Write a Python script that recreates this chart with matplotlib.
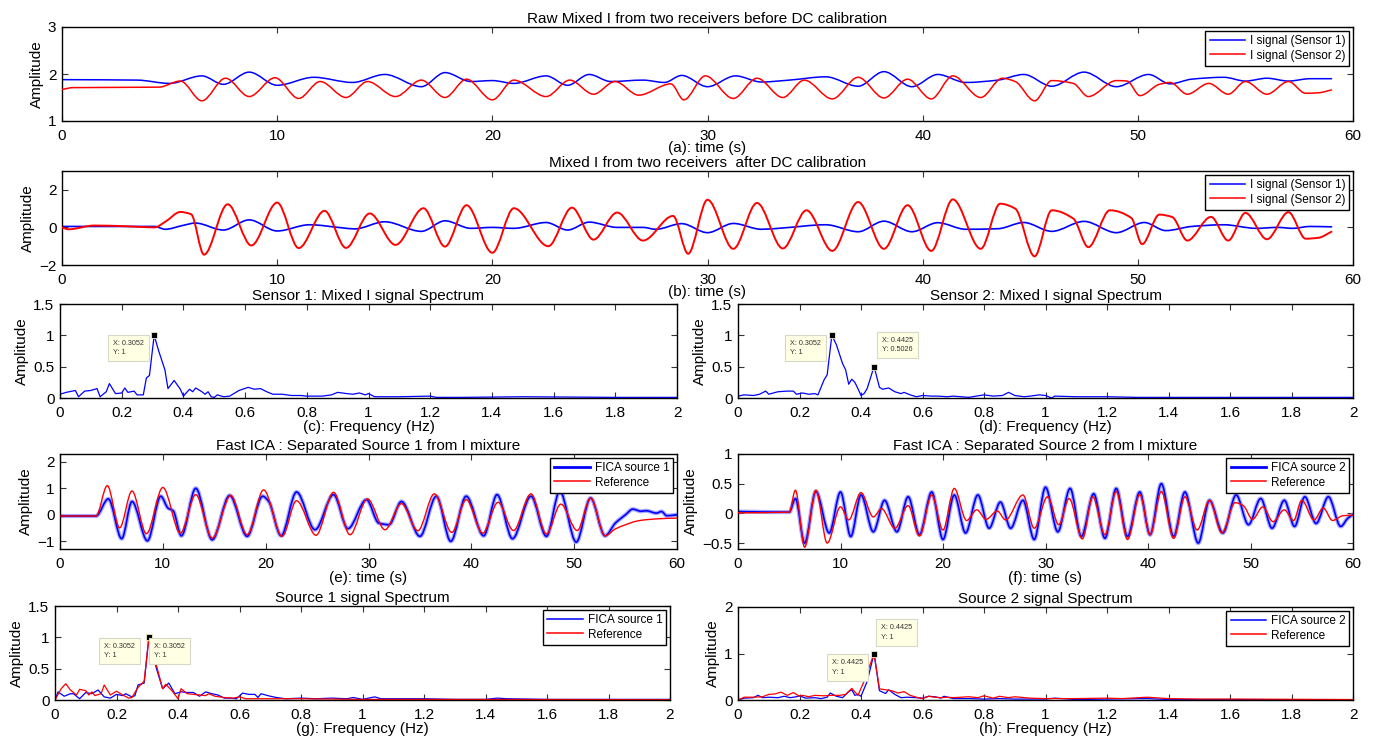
import numpy as np
import matplotlib
matplotlib.use("Agg")
import matplotlib.pyplot as plt
from matplotlib.path import Path
from matplotlib.patches import PathPatch
from matplotlib.lines import Line2D

plt.rcParams['font.family'] = ['Liberation Sans', 'DejaVu Sans']

# ---------------- data ----------------
# (a) raw mixed I
a_blue_t = [0, 3.5, 5.0, 6.5, 7.5, 8.7, 10.0, 11.7, 13.5, 15.0, 16.7, 17.8, 19.0, 20.0, 21.0, 22.5, 23.5, 24.5, 25.5, 27.0,
            28.0, 28.8, 30.0, 31.3, 32.5, 33.8, 35.5, 37.0, 38.2, 39.5, 40.7, 42.0, 43.5, 44.7, 46.0, 47.5, 49.0, 50.5,
            51.5, 52.5, 54.0, 55.0, 56.0, 57.0, 58.0, 59.0]
a_blue_v = [1.88, 1.87, 1.80, 1.96, 1.78, 2.04, 1.76, 1.93, 1.82, 1.99, 1.73, 2.03, 1.84, 1.86, 1.80, 1.96, 1.76, 1.99, 1.84,
            1.87, 1.82, 1.97, 1.73, 1.96, 1.83, 1.87, 1.94, 1.74, 2.05, 1.73, 1.99, 1.82, 1.87, 1.99, 1.74, 2.04, 1.73,
            1.99, 1.79, 1.89, 1.93, 1.85, 1.91, 1.85, 1.90, 1.90]
a_red_t = [0, 0.5, 4.5, 5.5, 6.5, 7.6, 8.7, 9.9, 11.0, 12.0, 13.2, 14.2, 15.5, 16.7, 17.8, 18.8, 20.0, 21.0, 22.5, 23.6,
           24.7, 25.7, 26.8, 28.3, 28.9, 29.9, 31.2, 32.3, 33.5, 34.5, 35.8, 37.0, 38.2, 39.3, 40.4, 41.4, 42.7, 43.7,
           44.3, 45.2, 46.0, 47.0, 47.7, 49.0, 49.5, 50.1, 51.0, 51.5, 52.3, 53.3, 54.2, 55.0, 56.0, 57.0, 57.8, 58.4, 59.0]
a_red_v = [1.67, 1.71, 1.72, 1.85, 1.43, 1.91, 1.52, 1.92, 1.48, 1.84, 1.50, 1.84, 1.52, 1.87, 1.50, 1.89, 1.45, 1.87,
           1.52, 1.87, 1.57, 1.84, 1.55, 1.79, 1.45, 1.96, 1.48, 1.91, 1.50, 1.87, 1.47, 1.93, 1.49, 1.89, 1.47, 1.96,
           1.50, 1.91, 1.84, 1.43, 1.86, 1.80, 1.52, 1.86, 1.85, 1.54, 1.78, 1.82, 1.57, 1.80, 1.57, 1.84, 1.57, 1.84,
           1.59, 1.60, 1.66]

# (b) after DC calibration
b_blue_t = [0, 4.3, 4.8, 5.6, 6.2, 7.5, 8.7, 10.0, 11.5, 13.0, 13.6, 15.0, 16.7, 17.8, 19.0, 20.0, 21.0, 22.5, 23.5, 24.5,
            25.8, 27.0, 27.6, 28.8, 30.0, 31.2, 32.5, 33.5, 35.5, 37.0, 38.2, 39.5, 40.7, 42.0, 43.5, 44.7, 46.0, 47.5,
            49.0, 50.3, 51.3, 52.5, 54.0, 55.5, 56.5, 57.2, 58.0, 59.0]
b_blue_v = [0.05, 0.05, -0.1, 0.1, 0.23, -0.14, 0.40, -0.19, 0.14, -0.02, -0.08, 0.30, -0.21, 0.35, -0.05, 0.0, -0.05,
            0.26, -0.14, 0.28, 0.0, 0.0, -0.1, 0.2, -0.28, 0.21, -0.1, -0.03, 0.14, -0.23, 0.33, -0.23, 0.25, -0.1,
            -0.07, 0.26, -0.21, 0.32, -0.28, 0.26, -0.17, 0.05, 0.14, -0.05, 0.0, -0.05, 0.05, 0.03]
b_red_t = [0, 0.3, 1.5, 3.0, 4.3, 4.8, 5.5, 6.0, 6.6, 7.7, 8.8, 10.0, 11.0, 12.2, 13.2, 14.3, 15.5, 16.8, 17.8, 18.8,
           20.0, 21.0, 22.6, 23.7, 24.7, 25.8, 27.0, 28.4, 29.1, 30.0, 31.2, 32.3, 33.5, 34.6, 35.8, 37.0, 38.2, 39.3,
           40.4, 41.4, 42.7, 43.6, 44.3, 45.2, 46.0, 47.0, 47.7, 48.7, 49.7, 50.2, 51.0, 51.6, 52.3, 53.4, 54.2, 55.0,
           56.0, 57.0, 57.8, 58.4, 59.0]
b_red_v = [0.0, -0.1, 0.1, 0.06, 0.0, 0.3, 0.82, 0.7, -1.45, 1.23, -0.96, 1.32, -1.1, 0.88, -1.09, 0.74, -0.93, 1.02,
           -1.02, 1.18, -1.35, 1.02, -1.0, 1.05, -0.65, 0.79, -0.70, 0.61, -1.4, 1.47, -1.14, 1.30, -1.12, 0.91, -1.25,
           1.35, -1.14, 1.18, -1.25, 1.49, -1.14, 1.26, 1.0, -1.54, 0.91, 0.47, -1.05, 0.91, 0.5, -0.89, 0.68, 0.55,
           -0.70, 0.56, -0.70, 0.77, -0.63, 0.81, -0.6, -0.55, -0.23]

# (c) sensor 1 spectrum
c_freq = [0.0, 0.02, 0.05, 0.06, 0.08, 0.10, 0.12, 0.13, 0.15, 0.16, 0.18, 0.20, 0.21, 0.22, 0.24, 0.25, 0.27, 0.28, 0.29,
          0.3052, 0.32, 0.34, 0.35, 0.37, 0.39, 0.40, 0.42, 0.43, 0.44, 0.46, 0.47, 0.48, 0.49, 0.50, 0.51, 0.53, 0.55,
          0.58, 0.61, 0.63, 0.65, 0.67, 0.69, 0.72, 0.75, 0.78, 0.80, 0.85, 0.88, 0.90, 0.93, 0.95, 0.97, 0.99, 1.00,
          1.02, 1.10, 1.20, 1.22, 1.30, 1.50, 1.80, 2.00]
c_amp = [0.06, 0.09, 0.12, 0.02, 0.11, 0.12, 0.15, 0.02, 0.10, 0.23, 0.07, 0.08, 0.16, 0.09, 0.11, 0.05, 0.05, 0.32, 0.36,
         1.00, 0.75, 0.45, 0.15, 0.28, 0.14, 0.03, 0.14, 0.10, 0.16, 0.10, 0.06, 0.10, 0.02, 0.01, 0.05, 0.02, 0.03,
         0.12, 0.17, 0.14, 0.15, 0.10, 0.06, 0.06, 0.04, 0.04, 0.03, 0.03, 0.05, 0.09, 0.07, 0.06, 0.08, 0.05, 0.07,
         0.02, 0.02, 0.03, 0.01, 0.01, 0.02, 0.01, 0.01]

# (d) sensor 2 spectrum
d_freq = [0.0, 0.02, 0.05, 0.07, 0.09, 0.10, 0.13, 0.16, 0.18, 0.19, 0.21, 0.23, 0.25, 0.26, 0.28, 0.29, 0.3052, 0.32,
          0.34, 0.35, 0.36, 0.37, 0.38, 0.39, 0.40, 0.41, 0.42, 0.4425, 0.46, 0.47, 0.49, 0.51, 0.53, 0.54, 0.56, 0.58,
          0.60, 0.63, 0.65, 0.68, 0.70, 0.75, 0.80, 0.83, 0.86, 0.88, 0.90, 0.93, 0.95, 0.98, 1.00, 1.02, 1.03, 1.10,
          1.20, 1.30, 1.50, 1.80, 2.00]
d_amp = [0.03, 0.05, 0.04, 0.06, 0.11, 0.06, 0.10, 0.11, 0.11, 0.06, 0.08, 0.06, 0.07, 0.05, 0.29, 0.37, 1.00, 0.85,
         0.55, 0.45, 0.22, 0.30, 0.25, 0.15, 0.04, 0.07, 0.15, 0.5026, 0.17, 0.14, 0.16, 0.10, 0.07, 0.09, 0.05, 0.02,
         0.04, 0.03, 0.03, 0.02, 0.03, 0.01, 0.05, 0.03, 0.04, 0.09, 0.04, 0.02, 0.03, 0.05, 0.04, 0.00, 0.03, 0.02,
         0.02, 0.01, 0.01, 0.01, 0.01]

# (e) separated source 1
e_fica_t = [0, 3.5, 4.7, 6.0, 7.0, 8.5, 9.8, 10.5, 11.0, 11.8, 13.2, 14.8, 16.5, 18.2, 19.7, 20.3, 21.5, 23.0, 24.8,
            26.6, 28.0, 29.8, 31.0, 32.0, 33.2, 35.0, 36.6, 38.0, 39.5, 41.2, 42.5, 44.0, 45.8, 47.3, 48.6, 50.2, 51.6,
            53.0, 54.0, 55.0, 55.7, 56.5, 57.0, 58.0, 58.5, 59.0, 60.0]
e_fica_v = [-0.05, -0.05, 0.6, -0.91, 0.5, -0.99, 0.7, 0.25, 0.15, -0.8, 1.0, -0.95, 0.73, -0.82, 0.7, 0.5, -0.8, 0.86,
            -0.57, 0.76, -0.53, 0.57, -0.32, -0.38, 0.5, -0.82, 0.7, -1.01, 0.7, -0.8, 0.76, -0.91, 0.7, -0.82, 0.89,
            -1.04, 0.63, -0.8, -0.32, 0.0, 0.21, 0.13, 0.15, 0.06, 0.12, -0.04, 0.0]
e_ref_t = [0, 3.5, 4.6, 5.8, 7.0, 8.4, 10.0, 11.7, 13.2, 14.8, 16.6, 18.2, 19.8, 21.6, 23.0, 24.9, 26.6, 28.2, 29.9, 31.6,
           33.2, 34.8, 36.4, 38.1, 39.5, 41.1, 42.6, 44.1, 45.8, 47.3, 48.7, 50.3, 51.6, 53.0, 54.0, 55.0, 56.0, 57.0,
           58.0, 59.0, 60.0]
e_ref_v = [-0.05, -0.05, 1.1, -0.5, 0.9, -0.72, 1.03, -0.7, 0.76, -0.89, 0.73, -0.76, 0.94, -0.82, 0.53, -0.78, 0.85,
           -0.76, 0.6, -0.57, 0.42, -0.61, 0.79, -0.67, 0.57, -0.7, 0.47, -0.6, 0.79, -0.73, 0.4, -0.6, 0.63, -0.8,
           -0.54, -0.38, -0.25, -0.19, -0.16, -0.14, -0.13]

# (f) separated source 2
f_fica_t = [0, 5.0, 5.6, 6.5, 7.6, 8.9, 10.0, 11.0, 12.0, 13.2, 14.3, 15.5, 16.6, 17.7, 18.9, 20.0, 21.1, 22.2, 23.4,
            24.5, 25.6, 26.6, 27.8, 28.9, 30.0, 31.2, 32.4, 33.5, 34.7, 35.8, 36.9, 38.0, 39.2, 40.2, 41.3, 42.5, 43.6,
            44.9, 46.0, 47.3, 48.6, 49.8, 51.0, 52.1, 53.3, 54.3, 55.3, 56.4, 57.6, 58.8, 59.5, 60.0]
f_fica_v = [0.03, 0.02, 0.25, -0.5, 0.37, -0.33, 0.36, -0.39, 0.31, -0.31, 0.22, -0.31, 0.28, -0.36, 0.36, -0.44, 0.31,
            -0.33, 0.31, -0.25, 0.19, -0.25, 0.22, -0.44, 0.44, -0.31, 0.42, -0.39, 0.33, -0.42, 0.42, -0.39, 0.36,
            -0.36, 0.5, -0.39, 0.36, -0.5, 0.22, -0.33, 0.31, -0.19, 0.25, -0.25, 0.22, -0.22, 0.28, -0.17, 0.28,
            -0.22, -0.08, -0.02]
f_ref_t = [0, 5.0, 5.6, 6.5, 7.6, 8.7, 10.0, 10.8, 12.0, 13.2, 14.0, 15.3, 16.6, 17.7, 18.9, 20.0, 21.1, 22.3, 23.3, 24.2,
           25.3, 26.1, 27.8, 28.9, 30.2, 31.3, 32.3, 33.6, 34.6, 35.8, 36.9, 38.0, 39.2, 40.2, 41.3, 42.5, 43.6, 44.8,
           46.0, 47.2, 48.5, 49.3, 50.2, 51.2, 52.2, 53.3, 54.2, 55.0, 56.2, 57.1, 58.0, 59.0, 60.0]
f_ref_v = [0.01, 0.02, 0.39, -0.57, 0.39, -0.5, 0.11, -0.11, 0.35, -0.06, 0.08, -0.25, 0.13, -0.38, 0.31, -0.28, 0.42,
           -0.12, 0.06, -0.1, 0.04, -0.11, 0.31, -0.25, 0.28, -0.19, 0.25, -0.43, 0.28, -0.36, 0.37, -0.44, 0.32,
           -0.36, 0.37, -0.42, 0.28, -0.28, 0.22, -0.33, 0.18, 0.13, -0.1, 0.11, -0.14, 0.06, -0.12, 0.22, -0.11,
           0.09, -0.12, -0.04, -0.03]

# (g) source 1 spectrum
g_fica_f = [0.0, 0.01, 0.03, 0.05, 0.06, 0.08, 0.10, 0.12, 0.14, 0.16, 0.18, 0.20, 0.22, 0.23, 0.25, 0.26, 0.27, 0.29,
            0.3052, 0.32, 0.33, 0.35, 0.37, 0.39, 0.41, 0.43, 0.45, 0.47, 0.49, 0.51, 0.53, 0.55, 0.57, 0.59, 0.61, 0.63,
            0.65, 0.66, 0.67, 0.70, 0.72, 0.75, 0.80, 0.85, 0.90, 0.95, 0.97, 1.00, 1.04, 1.06, 1.20, 1.30, 1.40, 1.44,
            1.47, 1.60, 2.00]
g_fica_a = [0.0, 0.13, 0.06, 0.10, 0.10, 0.02, 0.12, 0.10, 0.16, 0.05, 0.03, 0.09, 0.07, 0.10, 0.05, 0.07, 0.24, 0.27,
            1.00, 0.70, 0.50, 0.18, 0.27, 0.10, 0.13, 0.12, 0.12, 0.06, 0.13, 0.10, 0.08, 0.03, 0.03, 0.02, 0.11, 0.09,
            0.09, 0.04, 0.10, 0.06, 0.04, 0.02, 0.03, 0.02, 0.03, 0.02, 0.04, 0.01, 0.05, 0.02, 0.02, 0.01, 0.01, 0.03,
            0.02, 0.01, 0.01]
g_ref_f = [0.0, 0.02, 0.035, 0.05, 0.07, 0.08, 0.10, 0.11, 0.12, 0.13, 0.15, 0.16, 0.18, 0.20, 0.22, 0.24, 0.25, 0.27,
           0.29, 0.3052, 0.32, 0.33, 0.35, 0.36, 0.38, 0.40, 0.41, 0.43, 0.45, 0.47, 0.49, 0.50, 0.52, 0.55, 0.58, 0.60,
           0.62, 0.65, 0.70, 0.80, 1.00, 1.20, 2.00]
g_ref_a = [0.0, 0.18, 0.26, 0.16, 0.08, 0.17, 0.15, 0.08, 0.13, 0.07, 0.10, 0.24, 0.08, 0.14, 0.08, 0.03, 0.04, 0.20,
           0.30, 0.99, 0.85, 0.55, 0.18, 0.25, 0.15, 0.02, 0.18, 0.10, 0.09, 0.08, 0.07, 0.10, 0.06, 0.04, 0.03, 0.05,
           0.02, 0.02, 0.02, 0.02, 0.01, 0.01, 0.005]

# (h) source 2 spectrum
h_fica_f = [0.0, 0.02, 0.05, 0.065, 0.08, 0.10, 0.13, 0.15, 0.17, 0.19, 0.20, 0.22, 0.25, 0.27, 0.29, 0.30, 0.32, 0.34,
            0.36, 0.37, 0.38, 0.39, 0.40, 0.42, 0.4425, 0.46, 0.48, 0.49, 0.51, 0.53, 0.55, 0.58, 0.60, 0.62, 0.64,
            0.66, 0.67, 0.70, 0.75, 0.80, 0.85, 0.90, 1.00, 1.03, 1.10, 1.20, 1.33, 1.40, 1.60, 2.00]
h_fica_a = [0.0, 0.04, 0.05, 0.10, 0.05, 0.06, 0.05, 0.08, 0.05, 0.07, 0.09, 0.04, 0.05, 0.03, 0.06, 0.15, 0.08, 0.05,
            0.18, 0.22, 0.10, 0.12, 0.08, 0.40, 1.00, 0.20, 0.14, 0.22, 0.12, 0.05, 0.06, 0.05, 0.04, 0.08, 0.07, 0.04,
            0.08, 0.03, 0.03, 0.02, 0.03, 0.02, 0.02, 0.04, 0.01, 0.02, 0.03, 0.01, 0.01, 0.005]
h_ref_f = [0.0, 0.02, 0.05, 0.08, 0.10, 0.12, 0.14, 0.16, 0.18, 0.20, 0.21, 0.23, 0.25, 0.28, 0.30, 0.33, 0.35, 0.37,
           0.39, 0.41, 0.4425, 0.46, 0.48, 0.50, 0.52, 0.54, 0.56, 0.58, 0.60, 0.62, 0.64, 0.66, 0.68, 0.70, 0.75, 0.78,
           0.80, 0.83, 0.85, 0.88, 0.90, 0.95, 1.00, 1.10, 1.20, 1.25, 1.33, 1.40, 1.50, 1.60, 2.00]
h_ref_a = [0.0, 0.06, 0.06, 0.07, 0.12, 0.13, 0.17, 0.10, 0.16, 0.08, 0.10, 0.07, 0.10, 0.09, 0.10, 0.10, 0.12, 0.25,
           0.10, 0.40, 1.00, 0.24, 0.22, 0.20, 0.15, 0.18, 0.10, 0.06, 0.03, 0.08, 0.06, 0.05, 0.06, 0.05, 0.07, 0.05,
           0.09, 0.04, 0.08, 0.05, 0.07, 0.04, 0.03, 0.03, 0.04, 0.03, 0.06, 0.03, 0.02, 0.02, 0.01]

# tick values
time_ticks = [0, 10, 20, 30, 40, 50, 60]
freq_ticks = [0, 0.2, 0.4, 0.6, 0.8, 1.0, 1.2, 1.4, 1.6, 1.8, 2.0]
a_yticks = [1, 2, 3]
b_yticks = [-2, 0, 2]
spec_yticks = [0, 0.5, 1, 1.5]
e_yticks = [-1, 0, 1, 2]
f_yticks = [-0.5, 0, 0.5, 1]
h_yticks = [0, 1, 2]

# data tips: (x, y) of the marked point
tips_c = [(0.3052, 1.0)]
tips_d = [(0.3052, 1.0), (0.4425, 0.5026)]
tips_g = [(0.3052, 1.0)]
tips_h = [(0.4425, 1.0)]

BLUE = '#0000ff'
RED = '#ff0000'
FS = 11


def fmt(v):
    s = '%g' % v
    return s.replace('-', '\u2212')


def pchip_slopes(x, y):
    x = np.asarray(x, float)
    y = np.asarray(y, float)
    h = np.diff(x)
    delta = np.diff(y) / h
    n = len(x)
    d = np.zeros(n)
    for k in range(1, n - 1):
        if delta[k - 1] * delta[k] > 0:
            w1 = 2 * h[k] + h[k - 1]
            w2 = h[k] + 2 * h[k - 1]
            d[k] = (w1 + w2) / (w1 / delta[k - 1] + w2 / delta[k])
    d[0] = delta[0]
    d[-1] = delta[-1]
    return d


def smooth_line(ax, x, y, zorder=2, **kw):
    """Draw a smooth curve through the read points (cubic Bezier pieces)."""
    x = list(map(float, x))
    y = list(map(float, y))
    d = pchip_slopes(x, y)
    verts = [(x[0], y[0])]
    codes = [Path.MOVETO]
    for k in range(len(x) - 1):
        h = x[k + 1] - x[k]
        verts += [(x[k] + h / 3, y[k] + d[k] * h / 3),
                  (x[k + 1] - h / 3, y[k + 1] - d[k + 1] * h / 3),
                  (x[k + 1], y[k + 1])]
        codes += [Path.CURVE4] * 3
    p = PathPatch(Path(verts, codes), fill=False, zorder=zorder,
                  joinstyle='round', capstyle='round', **kw)
    ax.add_patch(p)
    return p


def style(ax, xlim, ylim, xticks, yticks, title, xlabel, labelpad=0):
    ax.set_xlim(*xlim)
    ax.set_ylim(*ylim)
    ax.set_xticks(xticks)
    ax.set_xticklabels([fmt(v) for v in xticks])
    ax.set_yticks(yticks)
    ax.set_yticklabels([fmt(v) for v in yticks])
    ax.tick_params(direction='in', top=True, right=True, length=4, width=0.8,
                   labelsize=FS, color='#333333')
    ax.tick_params(axis='x', pad=6)
    ax.tick_params(axis='y', pad=4)
    ax.set_title(title, fontsize=FS, pad=3)
    ax.set_xlabel(xlabel, fontsize=FS, labelpad=labelpad)
    ax.set_ylabel('Amplitude', fontsize=FS, labelpad=3)
    for s in ax.spines.values():
        s.set_linewidth(1.0)


def legend(ax, labels, lws):
    handles = [Line2D([], [], color=BLUE, lw=lws[0]), Line2D([], [], color=RED, lw=lws[1])]
    lg = ax.legend(handles, labels, loc='upper right', fontsize=8.5, frameon=True, fancybox=False,
                   edgecolor='black', framealpha=1, borderaxespad=0.3, handlelength=3.0,
                   labelspacing=0.25, borderpad=0.35, handletextpad=0.4)
    lg.get_frame().set_linewidth(1.0)
    lg.set_zorder(10)


TIPBOX = dict(boxstyle='square,pad=0.7', fc='#ffffe4', ec='#d8d8c8', lw=0.8)


def tip_text(ax, tx, ty, text):
    ax.text(tx, ty, text, fontsize=5.2, va='top', ha='left', color='#333333', zorder=9,
            linespacing=1.5, bbox=TIPBOX)


def datatip(ax, px, py, tx, ty, text):
    ax.plot([px], [py], marker='s', ms=5, mfc='black', mec='#f0f0c0', mew=0.6, zorder=8, clip_on=False)
    tip_text(ax, tx, ty, text)


fig = plt.figure(figsize=(13.84, 7.42), dpi=100)
W, H = 1384.0, 742.0


def axes_px(l, t, r, b):
    return fig.add_axes([l / W, 1 - b / H, (r - l) / W, (b - t) / H])


# (a)
ax = axes_px(62, 27, 1353, 121)
smooth_line(ax, a_blue_t, a_blue_v, edgecolor=BLUE, lw=1.1)
smooth_line(ax, a_red_t, a_red_v, edgecolor=RED, lw=1.1, zorder=3)
style(ax, (0, 60), (1, 3), time_ticks, a_yticks, 'Raw Mixed I from two receivers before DC calibration',
      '(a): time (s)', labelpad=-2)
legend(ax, ['I signal (Sensor 1)', 'I signal (Sensor 2)'], [1.1, 1.1])

# (b)
ax = axes_px(62, 171, 1353, 265)
smooth_line(ax, b_blue_t, b_blue_v, edgecolor=BLUE, lw=1.2)
smooth_line(ax, b_red_t, b_red_v, edgecolor=RED, lw=1.4, zorder=3)
style(ax, (0, 60), (-2, 3), time_ticks, b_yticks, 'Mixed I from two receivers  after DC calibration',
      '(b): time (s)', labelpad=-2)
legend(ax, ['I signal (Sensor 1)', 'I signal (Sensor 2)'], [1.1, 1.1])

# (c)
ax = axes_px(60, 304, 677, 398)
ax.plot(c_freq, c_amp, color=BLUE, lw=0.9)
style(ax, (0, 2), (0, 1.5), freq_ticks, spec_yticks, 'Sensor 1: Mixed I signal Spectrum', '(c): Frequency (Hz)')
datatip(ax, tips_c[0][0], tips_c[0][1], 0.172, 0.93, 'X: %.4f\nY: %g' % tips_c[0])

# (d)
ax = axes_px(738, 304, 1353, 398)
ax.plot(d_freq, d_amp, color=BLUE, lw=0.9)
style(ax, (0, 2), (0, 1.5), freq_ticks, spec_yticks, 'Sensor 2: Mixed I signal Spectrum', '(d): Frequency (Hz)')
datatip(ax, tips_d[0][0], tips_d[0][1], 0.168, 0.93, 'X: %.4f\nY: %g' % tips_d[0])
datatip(ax, tips_d[1][0], tips_d[1][1], 0.467, 0.98, 'X: %.4f\nY: %.4f' % tips_d[1])

# (e)
ax = axes_px(60, 454, 677, 549)
smooth_line(ax, e_fica_t, e_fica_v, edgecolor='#8c8cff', lw=3.0, alpha=0.75)
smooth_line(ax, e_fica_t, e_fica_v, edgecolor=BLUE, lw=1.2)
smooth_line(ax, e_ref_t, e_ref_v, edgecolor=RED, lw=1.0, zorder=3)
style(ax, (0, 60), (-1.3, 2.3), time_ticks, e_yticks, 'Fast ICA : Separated Source 1 from I mixture',
      '(e): time (s)')
legend(ax, ['FICA source 1', 'Reference'], [2.0, 1.1])

# (f)
ax = axes_px(738, 454, 1353, 549)
smooth_line(ax, f_fica_t, f_fica_v, edgecolor='#8c8cff', lw=3.0, alpha=0.75)
smooth_line(ax, f_fica_t, f_fica_v, edgecolor=BLUE, lw=1.2)
smooth_line(ax, f_ref_t, f_ref_v, edgecolor=RED, lw=1.0, zorder=3)
style(ax, (0, 60), (-0.6, 1.0), time_ticks, f_yticks, 'Fast ICA : Separated Source 2 from I mixture',
      '(f): time (s)')
legend(ax, ['FICA source 2', 'Reference'], [2.0, 1.1])

# (g)
ax = axes_px(55, 606, 670, 700)
ax.plot(g_fica_f, g_fica_a, color=BLUE, lw=0.9)
ax.plot(g_ref_f, g_ref_a, color=RED, lw=0.9)
style(ax, (0, 2), (0, 1.5), freq_ticks, spec_yticks, 'Source 1 signal Spectrum', '(g): Frequency (Hz)')
legend(ax, ['FICA source 1', 'Reference'], [1.1, 1.1])
datatip(ax, tips_g[0][0], tips_g[0][1], 0.160, 0.915, 'X: %.4f\nY: %g' % tips_g[0])
tip_text(ax, 0.322, 0.915, 'X: %.4f\nY: %g' % tips_g[0])

# (h)
ax = axes_px(738, 607, 1353, 700)
ax.plot(h_fica_f, h_fica_a, color=BLUE, lw=0.9)
ax.plot(h_ref_f, h_ref_a, color=RED, lw=0.9)
style(ax, (0, 2), (0, 2), freq_ticks, h_yticks, 'Source 2 signal Spectrum', '(h): Frequency (Hz)')
legend(ax, ['FICA source 2', 'Reference'], [1.1, 1.1])
datatip(ax, tips_h[0][0], tips_h[0][1], 0.465, 1.63, 'X: %.4f\nY: %g' % tips_h[0])
tip_text(ax, 0.305, 0.88, 'X: %.4f\nY: %g' % tips_h[0])

fig.savefig('out.png', dpi=100)
